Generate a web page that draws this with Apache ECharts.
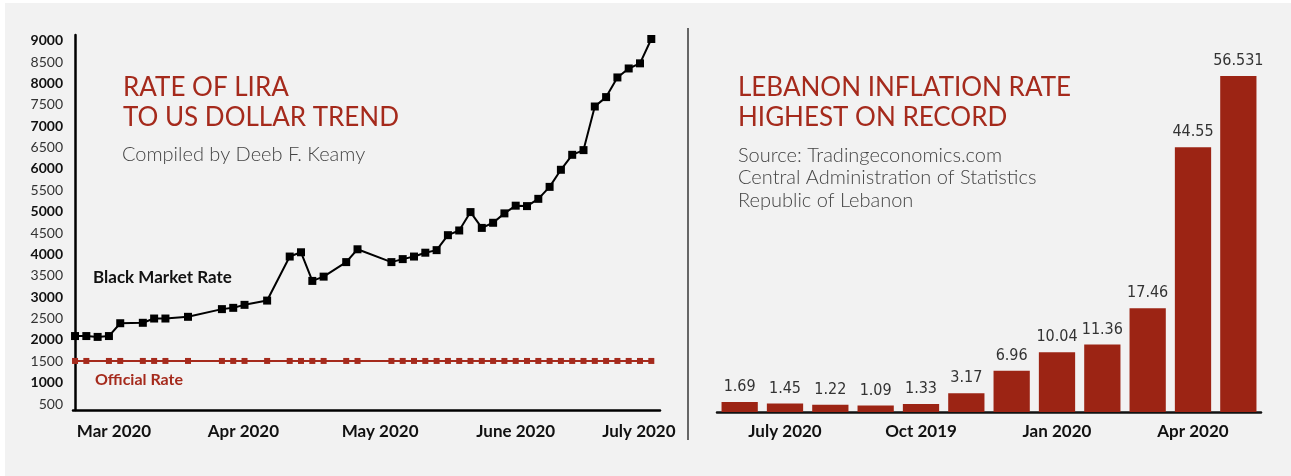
<!DOCTYPE html>
<html>
<head>
<meta charset="utf-8">
<script src="https://cdn.jsdelivr.net/npm/echarts@6/dist/echarts.min.js"></script>
<style>
html,body{margin:0;padding:0;background:#ffffff;}
#bg{position:absolute;left:5px;top:3px;right:0;bottom:0;background:#f2f2f2;}
#chart{position:absolute;left:0;top:0;width:1291px;height:476px;}
</style>
</head>
<body>
<div id="bg"></div>
<div id="chart"></div>
<script>
// ---- Left chart: Lira / USD rate (observation index along x) ----
const obsIndex = [0,1,2,3,4,6,7,8,10,13,14,15,17,19,20,21,22,24,25,28,29,30,31,32,33,34,35,36,37,38,39,40,41,42,43,44,45,46,47,48,49,50,51];
const blackMarket = [2090,2090,2070,2090,2390,2400,2500,2500,2540,2720,2750,2820,2920,3950,4050,3380,3480,3820,4120,3820,3890,3950,4040,4100,4450,4560,4990,4620,4740,4960,5140,5130,5300,5580,5980,6330,6440,7460,7680,8140,8350,8470,9040];
const officialIndex = [0,1,3,4,6,7,8,10,13,14,15,17,19,20,21,22,24,25,28,29,30,31,32,33,34,35,36,37,38,39,40,41,42,43,44,45,46,47,48,49,50,51];
const officialRate = 1507.5;
const yTicks = [500,1000,1500,2000,2500,3000,3500,4000,4500,5000,5500,6000,6500,7000,7500,8000,8500,9000];
const monthTickAt = [3.45, 14.9, 27, 39, 49.9];
const monthLabels = ['Mar 2020','Apr 2020','May 2020','June 2020','July 2020'];

// ---- Right chart: inflation ----
const inflationMonths = ['Jun 2019','Jul 2019','Aug 2019','Sep 2019','Oct 2019','Nov 2019','Dec 2019','Jan 2020','Feb 2020','Mar 2020','Apr 2020','May 2020'];
const inflation = [1.69,1.45,1.22,1.09,1.33,3.17,6.96,10.04,11.36,17.46,44.55,56.531];
const inflationTickLabels = ['','July 2020','','','Oct 2019','','','Jan 2020','','','Apr 2020',''];

const RED = '#9c2414';
const FONT = 'Lato, "Open Sans", sans-serif';

const bmData = obsIndex.map((x,i)=>[x, blackMarket[i]]);
const offData = officialIndex.map(x=>[x, officialRate]);

const chart = echarts.init(document.getElementById('chart'), null, {renderer:'canvas'});
chart.setOption({
  animation:false,
  backgroundColor:'transparent',
  textStyle:{fontFamily:FONT},
  grid:[
    {left:73, right:631, top:35, bottom:66},
    {left:717, right:30, top:76, bottom:64}
  ],
  xAxis:[
    {
      gridIndex:0, type:'value', min:-0.18, max:51.77,
      splitLine:{show:false},
      axisLine:{show:true, onZero:false, lineStyle:{color:'#000', width:2.5}},
      axisTick:{show:false},
      axisLabel:{
        customValues:monthTickAt,
        formatter:(v)=>{ const i = monthTickAt.indexOf(v); return i>=0?monthLabels[i]:''; },
        color:'#111', fontWeight:'bold', fontSize:17, margin:13, fontFamily:FONT
      }
    },
    {
      gridIndex:1, type:'category', data:inflationMonths,
      axisLine:{show:true, lineStyle:{color:'#111', width:2.5}},
      axisTick:{show:false},
      axisLabel:{
        interval:0,
        formatter:(v, i)=>inflationTickLabels[i],
        color:'#111', fontWeight:'bold', fontSize:17, margin:11, fontFamily:FONT
      }
    }
  ],
  yAxis:[
    {
      gridIndex:0, type:'value', min:360, max:9133,
      splitLine:{show:false},
      axisLine:{show:true, lineStyle:{color:'#000', width:2.5}},
      axisTick:{show:false},
      axisLabel:{
        customValues:yTicks,
        margin:10,
        formatter:(v)=> (v % 1000 === 0) ? '{b|'+v+'}' : '{n|'+v+'}',
        rich:{
          b:{fontWeight:'bold', fontSize:14, color:'#111', fontFamily:FONT},
          n:{fontWeight:'normal', fontSize:14, color:'#333', fontFamily:FONT}
        }
      }
    },
    {
      gridIndex:1, type:'value', min:0, max:56.531, show:false
    }
  ],
  series:[
    {
      name:'Official Rate', type:'line', xAxisIndex:0, yAxisIndex:0,
      data:offData, symbol:'rect', symbolSize:6, showAllSymbol:true,
      lineStyle:{color:'#a52a1c', width:2}, itemStyle:{color:'#a52a1c'}, z:2
    },
    {
      name:'Black Market Rate', type:'line', xAxisIndex:0, yAxisIndex:0,
      data:bmData, symbol:'rect', symbolSize:8, showAllSymbol:true,
      lineStyle:{color:'#000', width:2}, itemStyle:{color:'#000'}, z:3
    },
    {
      name:'Inflation', type:'bar', xAxisIndex:1, yAxisIndex:1,
      data:inflation, barCategoryGap:'20%',
      itemStyle:{color:RED},
      label:{
        show:true, position:'top', distance:7,
        formatter:(p)=>String(p.value),
        color:'#333', fontSize:16, fontFamily:'"DejaVu Sans Condensed", sans-serif'
      }
    }
  ],
  graphic:[
    {type:'line', shape:{x1:688, y1:28, x2:688, y2:440}, style:{stroke:'#666', lineWidth:2}},
    {type:'text', left:123, top:73, style:{text:'RATE OF LIRA\nTO US DOLLAR TREND', fill:'#a52a1c', font:'26px '+FONT, lineHeight:30}},
    {type:'text', left:122, top:145, style:{text:'Compiled by Deeb F. Keamy', fill:'#444', font:'300 20px '+FONT}},
    {type:'text', left:93, top:269, style:{text:'Black Market Rate', fill:'#111', font:'bold 17px '+FONT}},
    {type:'text', left:95, top:372, style:{text:'Official Rate', fill:'#a52a1c', font:'bold 16px '+FONT}},
    {type:'text', left:738, top:73, style:{text:'LEBANON INFLATION RATE\nHIGHEST ON RECORD', fill:'#a52a1c', font:'26px '+FONT, lineHeight:30}},
    {type:'text', left:738, top:144, style:{text:'Source: Tradingeconomics.com\nCentral Administration of Statistics\nRepublic of Lebanon', fill:'#444', font:'300 20px '+FONT, lineHeight:22.5}}
  ]
});
</script>
</body>
</html>
